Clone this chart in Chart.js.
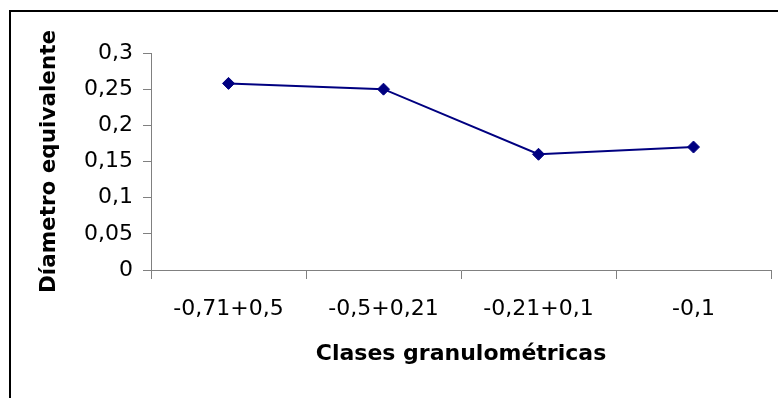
<!DOCTYPE html>
<html>
<head>
<meta charset="utf-8">
<script src="https://cdn.jsdelivr.net/npm/chart.js@4"></script>
<style>
  html, body { margin: 0; padding: 0; background: #fff; overflow: hidden; }
  #wrap { position: relative; width: 778px; height: 398px; }
  #frame { position: absolute; left: 9px; top: 10px; width: 900px; height: 600px;
           border-left: 2px solid #000; border-top: 2px solid #000; }
  canvas { position: absolute; left: 0; top: 0; }
</style>
</head>
<body>
<div id="wrap">
  <div id="frame"></div>
  <canvas id="c" width="778" height="398"></canvas>
</div>
<script>
const categories = ['-0,71+0,5', '-0,5+0,21', '-0,21+0,1', '-0,1'];
const diametro = [0.258, 0.25, 0.16, 0.17];
const yTitle = 'Díametro equivalente';
const xTitle = 'Clases granulométricas';

const FONT = '"DejaVu Sans", "Liberation Sans", Arial, sans-serif';

new Chart(document.getElementById('c'), {
  type: 'line',
  data: {
    labels: categories,
    datasets: [{
      data: diametro,
      borderColor: '#000080',
      backgroundColor: '#000080',
      borderWidth: 2,
      tension: 0,
      pointStyle: 'rectRot',
      pointRadius: 6,
      pointBorderWidth: 1,
      pointBackgroundColor: '#000080',
      pointBorderColor: '#000080',
      fill: false
    }]
  },
  options: {
    responsive: false,
    animation: false,
    events: [],
    layout: { padding: { top: 53, right: 6, left: 0, bottom: 0 } },
    plugins: { legend: { display: false }, tooltip: { enabled: false } },
    scales: {
      x: {
        type: 'category',
        offset: true,
        grid: { offset: true, drawOnChartArea: false, drawTicks: true, tickLength: 9, color: '#808080', lineWidth: 1 },
        border: { display: true, color: '#808080', width: 1 },
        ticks: { color: '#000', font: { family: FONT, size: 22 }, padding: 17, maxRotation: 0, autoSkip: false },
        title: { display: true, text: xTitle, color: '#000', padding: { top: 0, bottom: 31 },
                 font: { family: FONT, size: 22, weight: 'bold' } },
        afterFit(scale) { scale.height = 128; }
      },
      y: {
        min: 0, max: 0.3,
        grid: { drawOnChartArea: false, drawTicks: true, tickLength: 8, color: '#808080', lineWidth: 1 },
        border: { display: true, color: '#808080', width: 1 },
        ticks: {
          stepSize: 0.05, color: '#000', padding: 10,
          font: { family: FONT, size: 22 },
          callback: (v) => String(Number(v.toFixed(2))).replace('.', ',')
        },
        title: { display: true, text: yTitle, color: '#000', padding: { top: 37, bottom: 0 },
                 font: { family: FONT, size: 21.5, weight: 'bold' } },
        afterFit(scale) { scale.width = 151; }
      }
    }
  }
});
</script>
</body>
</html>
